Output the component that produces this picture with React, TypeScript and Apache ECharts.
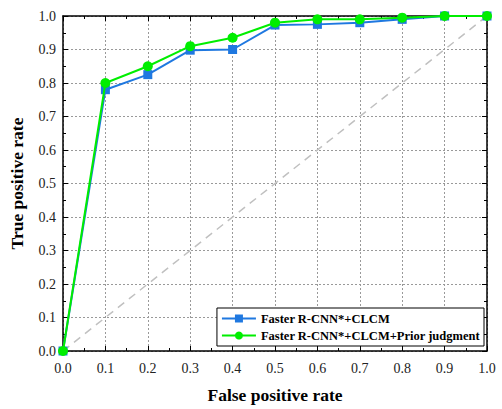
import React, { useEffect, useRef } from "react";
import * as echarts from "echarts";

const fpr = [0, 0.1, 0.2, 0.3, 0.4, 0.5, 0.6, 0.7, 0.8, 0.9, 1.0];
const tprBase = [0, 0.78, 0.825, 0.898, 0.9, 0.973, 0.975, 0.98, 0.99, 1.0, 1.0];
const tprPrior = [0, 0.8, 0.85, 0.91, 0.935, 0.98, 0.99, 0.99, 0.995, 1.0, 1.0];
const diag = [0, 1];
const seriesNames = ["Faster R-CNN*+CLCM", "Faster R-CNN*+CLCM+Prior judgment"];

const FONT = "'Liberation Serif', 'Times New Roman', serif";

export default function App() {
  const ref = useRef<HTMLDivElement>(null);
  useEffect(() => {
    if (!ref.current) return;
    const chart = echarts.init(ref.current, null, { renderer: "svg" });
    const baseAxis = (extra: any) => ({
      type: "value",
      min: 0,
      max: 1,
      interval: 0.1,
      axisLine: { show: true, onZero: false, lineStyle: { color: "#000", width: 1.5 } },
      axisTick: { show: true, inside: true, length: 5, lineStyle: { color: "#000", width: 1 } },
      minorTick: { show: true, splitNumber: 2, length: 3, lineStyle: { color: "#000" } },
      ...extra,
    });
    chart.setOption({
      animation: false,
      backgroundColor: "#fff",
      textStyle: { fontFamily: FONT },
      grid: { left: 60, right: 15, top: 16, bottom: 51 },
      legend: {
        right: 18,
        bottom: 63,
        orient: "vertical",
        data: seriesNames,
        itemWidth: 34,
        itemHeight: 10,
        itemGap: 4,
        padding: [4, 4, 4, 4],
        borderColor: "#000",
        borderWidth: 1,
        backgroundColor: "#fff",
        textStyle: { fontFamily: FONT, fontWeight: "bold", fontSize: 12.5, color: "#000" },
      },
      xAxis: [
        baseAxis({
          position: "bottom",
          name: "False positive rate",
          nameLocation: "middle",
          nameGap: 35,
          nameTextStyle: { fontFamily: FONT, fontWeight: "bold", fontSize: 17.5, color: "#000" },
          axisLabel: { fontFamily: FONT, fontSize: 14, color: "#222", margin: 10, formatter: (v: number) => v.toFixed(1) },
          splitLine: { show: true, lineStyle: { color: "#999", type: [2, 2], width: 1 } },
        }),
        baseAxis({ position: "top", axisLabel: { show: false }, splitLine: { show: false } }),
      ],
      yAxis: [
        baseAxis({
          position: "left",
          name: "True positive rate",
          nameLocation: "middle",
          nameGap: 37,
          nameTextStyle: { fontFamily: FONT, fontWeight: "bold", fontSize: 17.5, color: "#000" },
          axisLabel: { fontFamily: FONT, fontSize: 14, color: "#222", margin: 7, formatter: (v: number) => v.toFixed(1) },
          splitLine: { show: true, lineStyle: { color: "#999", type: [2, 2], width: 1 } },
        }),
        baseAxis({ position: "right", axisLabel: { show: false }, splitLine: { show: false } }),
      ],
      series: [
        {
          type: "line",
          silent: true,
          data: diag.map((v) => [v, v]),
          symbol: "none",
          lineStyle: { color: "#c0c0c0", width: 1.5, type: [8, 6] },
          z: 1,
        },
        {
          name: seriesNames[0],
          type: "line",
          data: fpr.map((x, i) => [x, tprBase[i]]),
          symbol: "rect",
          symbolSize: 9,
          itemStyle: { color: "#1f78e0" },
          lineStyle: { color: "#1f78e0", width: 2 },
          z: 3,
        },
        {
          name: seriesNames[1],
          type: "line",
          data: fpr.map((x, i) => [x, tprPrior[i]]),
          symbol: "circle",
          symbolSize: 10,
          itemStyle: { color: "#00ee00" },
          lineStyle: { color: "#00ee00", width: 2 },
          z: 4,
        },
      ],
    });
    return () => chart.dispose();
  }, []);
  return (
    <div
      ref={ref}
      style={{ position: "absolute", left: 0, top: 0, width: 502, height: 409 }}
    />
  );
}
